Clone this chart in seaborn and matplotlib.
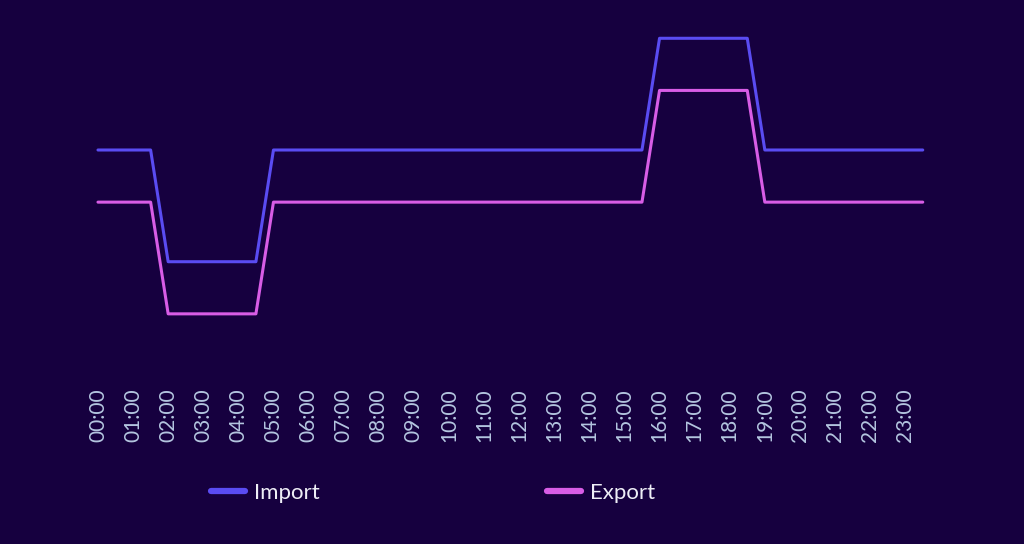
import numpy as np
import pandas as pd
import matplotlib
matplotlib.use("Agg")
import matplotlib.pyplot as plt
import seaborn as sns

# half-hourly time slots (hours since midnight)
hours = [0.0, 0.5, 1.0, 1.5, 2.0, 2.5, 3.0, 3.5, 4.0, 4.5, 5.0, 5.5,
         6.0, 6.5, 7.0, 7.5, 8.0, 8.5, 9.0, 9.5, 10.0, 10.5, 11.0, 11.5,
         12.0, 12.5, 13.0, 13.5, 14.0, 14.5, 15.0, 15.5, 16.0, 16.5, 17.0, 17.5,
         18.0, 18.5, 19.0, 19.5, 20.0, 20.5, 21.0, 21.5, 22.0, 22.5, 23.0, 23.5]

# tariff values (arbitrary units)
import_vals = [0.25, 0.25, 0.25, 0.25, 0.10, 0.10, 0.10, 0.10, 0.10, 0.10, 0.25, 0.25,
               0.25, 0.25, 0.25, 0.25, 0.25, 0.25, 0.25, 0.25, 0.25, 0.25, 0.25, 0.25,
               0.25, 0.25, 0.25, 0.25, 0.25, 0.25, 0.25, 0.25, 0.40, 0.40, 0.40, 0.40,
               0.40, 0.40, 0.25, 0.25, 0.25, 0.25, 0.25, 0.25, 0.25, 0.25, 0.25, 0.25]
export_vals = [0.18, 0.18, 0.18, 0.18, 0.03, 0.03, 0.03, 0.03, 0.03, 0.03, 0.18, 0.18,
               0.18, 0.18, 0.18, 0.18, 0.18, 0.18, 0.18, 0.18, 0.18, 0.18, 0.18, 0.18,
               0.18, 0.18, 0.18, 0.18, 0.18, 0.18, 0.18, 0.18, 0.33, 0.33, 0.33, 0.33,
               0.33, 0.33, 0.18, 0.18, 0.18, 0.18, 0.18, 0.18, 0.18, 0.18, 0.18, 0.18]

tick_hours = [0, 1, 2, 3, 4, 5, 6, 7, 8, 9, 10, 11,
              12, 13, 14, 15, 16, 17, 18, 19, 20, 21, 22, 23]
tick_labels = ["00:00", "01:00", "02:00", "03:00", "04:00", "05:00",
               "06:00", "07:00", "08:00", "09:00", "10:00", "11:00",
               "12:00", "13:00", "14:00", "15:00", "16:00", "17:00",
               "18:00", "19:00", "20:00", "21:00", "22:00", "23:00"]

series_names = ["Import", "Export"]

BG = "#16003f"
palette = {"Import": "#5a4cf2", "Export": "#d85de6"}

df = pd.concat([
    pd.DataFrame({"hour": hours, "price": import_vals, "series": "Import"}),
    pd.DataFrame({"hour": hours, "price": export_vals, "series": "Export"}),
])

sns.set_style("dark")
plt.rcParams["font.family"] = ["Lato", "DejaVu Sans"]

fig = plt.figure(figsize=(10.24, 5.44), dpi=100, facecolor=BG)
ax = fig.add_axes([0.0614, 0.3015, 0.874, 0.6618])
ax.set_facecolor(BG)

sns.lineplot(data=df, x="hour", y="price", hue="series", hue_order=series_names,
             palette=palette, linewidth=2.2, ax=ax, legend=False)

ax.set_xlim(-1.0, 24.5)
ax.set_ylim(-0.0588, 0.4246)
ax.grid(False)
for s in ax.spines.values():
    s.set_visible(False)
ax.set_xlabel("")
ax.set_ylabel("")
ax.set_yticks([])

ax.set_xticks(tick_hours)
ax.set_xticklabels(tick_labels, rotation=90, fontsize=15, color="#b4c6e0")
ax.tick_params(axis="x", length=0, pad=44.6)
plt.setp(ax.get_xticklabels(), va="bottom", ha="center")

# legend below the chart
handles = [plt.Line2D([], [], color=palette[n], linewidth=4.5, solid_capstyle="round")
           for n in series_names]
leg = fig.legend(handles, series_names, loc="center",
                 bbox_to_anchor=(433 / 1024, 1 - 493 / 544), ncol=2,
                 frameon=False, fontsize=16, handlelength=1.55,
                 handletextpad=0.4, columnspacing=10.2)
for t in leg.get_texts():
    t.set_color("#eeeef6")

fig.savefig("out.png", dpi=100, facecolor=BG)
